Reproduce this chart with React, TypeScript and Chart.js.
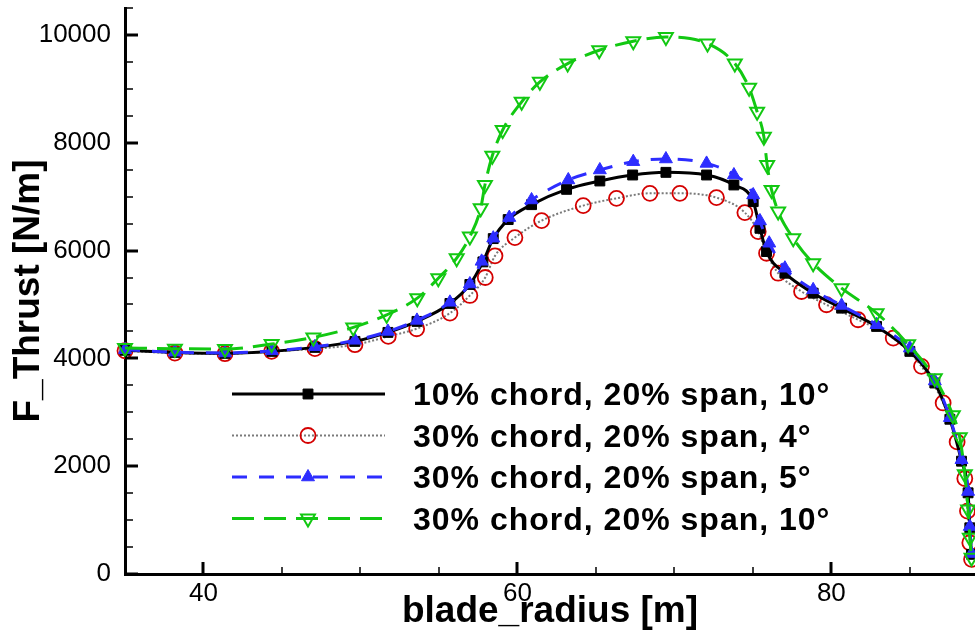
import React, { useEffect, useRef } from 'react';
import { Chart, registerables } from 'chart.js';

Chart.register(...registerables);

// ---------- data ----------
const xBlack = [35, 38.18, 41.37, 44.36, 47.1, 49.65, 51.75, 53.6, 55.7, 56.97, 57.8, 58.46, 59.41, 60.9, 63.13, 65.25, 67.34, 69.46, 72.05, 73.79, 75.02, 75.45, 75.87, 77.04, 78.84, 80.65, 82.88, 85.0, 86.59, 87.55, 88.29, 88.71, 88.82, 88.93];
const yBlack = [4150, 4111, 4093, 4130, 4204, 4315, 4482, 4686, 5019, 5371, 5790, 6222, 6575, 6852, 7136, 7291, 7402, 7451, 7402, 7217, 6908, 6413, 5982, 5580, 5210, 4932, 4593, 4130, 3543, 2871, 2093, 1506, 857, 365];

const xRed = [35, 38.18, 41.37, 44.34, 47.1, 49.65, 51.77, 53.58, 55.7, 56.97, 57.95, 58.57, 59.84, 61.54, 64.19, 66.31, 68.44, 70.35, 72.68, 74.49, 75.34, 75.87, 76.61, 78.1, 79.69, 81.7, 83.94, 85.74, 87.12, 88.01, 88.5, 88.67, 88.82, 88.93];
const yRed = [4142, 4099, 4087, 4130, 4180, 4254, 4408, 4550, 4839, 5167, 5500, 5902, 6241, 6556, 6834, 6969, 7062, 7062, 6982, 6704, 6352, 5950, 5580, 5241, 4995, 4717, 4376, 3852, 3173, 2450, 1772, 1167, 580, 272];

const xBlue = [35, 38.18, 41.37, 44.36, 47.1, 49.65, 51.75, 53.6, 55.7, 56.97, 57.72, 58.46, 59.48, 60.9, 63.24, 65.25, 67.38, 69.46, 72.05, 73.79, 75.02, 75.45, 76.04, 77.04, 78.84, 80.65, 82.88, 85.0, 86.59, 87.55, 88.29, 88.71, 88.82, 88.93];
const yBlue = [4160, 4115, 4100, 4140, 4215, 4335, 4500, 4705, 5040, 5380, 5800, 6230, 6612, 6939, 7310, 7495, 7649, 7699, 7617, 7402, 7032, 6550, 6136, 5673, 5272, 4982, 4624, 4191, 3580, 2900, 2120, 1530, 880, 380];

const xGreen = [35, 38.18, 41.37, 44.34, 47.0, 49.54, 51.67, 53.62, 54.96, 56.13, 56.97, 57.66, 57.93, 58.4, 59.06, 60.27, 61.43, 63.2, 65.21, 67.38, 69.46, 72.11, 73.85, 74.76, 75.27, 75.7, 75.91, 76.19, 76.61, 77.57, 78.84, 80.65, 82.88, 84.89, 86.59, 87.74, 88.18, 88.5, 88.71, 88.82, 88.93];
const yGreen = [4191, 4180, 4173, 4265, 4389, 4574, 4809, 5117, 5487, 5858, 6260, 6784, 7217, 7760, 8236, 8760, 9130, 9469, 9717, 9884, 9960, 9840, 9469, 9019, 8575, 8112, 7588, 7125, 6727, 6228, 5765, 5302, 4839, 4260, 3630, 2945, 2537, 1852, 1198, 672, 300];

const seriesLabels = [
  '10% chord, 20% span, 10°',
  '30% chord, 20% span, 4°',
  '30% chord, 20% span, 5°',
  '30% chord, 20% span, 10°',
];

const xMin = 35;
const xMax = 89.15;
const yMin = 0;
const yMax = 10500;
const xStep = 5;
const xMajorEvery = 20;
const yStep = 500;
const yMajorEvery = 2000;

// ---------- styles ----------
const BLACK = '#000000';
const RED = '#d40000';
const GRAY = '#7a7a7a';
const BLUE = '#2d2dff';
const GREEN = '#12c812';
const FONT = '"Liberation Sans", Arial, Helvetica, sans-serif';

const styles = [
  { line: BLACK, width: 3, dash: [] as number[], marker: 'rect', fill: BLACK, stroke: BLACK, r: 7, mw: 1 },
  { line: GRAY, width: 2, dash: [2, 2], marker: 'circle', fill: 'rgba(0,0,0,0)', stroke: RED, r: 7.5, mw: 1.8 },
  { line: BLUE, width: 3, dash: [15, 12], marker: 'triangle', fill: BLUE, stroke: BLUE, r: 7.5, mw: 1 },
  { line: GREEN, width: 3, dash: [22, 10], marker: 'triangleDown', fill: 'rgba(0,0,0,0)', stroke: GREEN, r: 8, mw: 2 },
];

function zip(xs: number[], ys: number[]) {
  return xs.map((x, i) => ({ x, y: ys[i] }));
}

function drawMarker(ctx: CanvasRenderingContext2D, kind: string, x: number, y: number, r: number, fill: string, stroke: string, lw: number) {
  ctx.save();
  ctx.setLineDash([]);
  ctx.beginPath();
  if (kind === 'rect') {
    const s = Math.SQRT1_2 * r;
    ctx.rect(x - s, y - s, 2 * s, 2 * s);
  } else if (kind === 'circle') {
    ctx.arc(x, y, r, 0, Math.PI * 2);
  } else if (kind === 'triangle' || kind === 'triangleDown') {
    const sgn = kind === 'triangle' ? 1 : -1;
    const a = -Math.PI / 2;
    for (let k = 0; k < 3; k++) {
      const ang = a + (k * 2 * Math.PI) / 3;
      const px = x + Math.cos(ang) * r;
      const py = y + sgn * Math.sin(ang) * r;
      if (k === 0) ctx.moveTo(px, py); else ctx.lineTo(px, py);
    }
    ctx.closePath();
  }
  ctx.fillStyle = fill;
  ctx.fill();
  ctx.lineWidth = lw;
  ctx.strokeStyle = stroke;
  ctx.stroke();
  ctx.restore();
}

const innerTicks = {
  id: 'innerTicks',
  afterDraw(chart: any) {
    const { ctx, chartArea } = chart;
    const xs = chart.scales.x;
    const ys = chart.scales.y;
    ctx.save();
    ctx.strokeStyle = '#000';
    xs.ticks.forEach((t: any) => {
      const major = Math.abs(t.value % xMajorEvery) < 1e-6;
      const px = Math.round(xs.getPixelForValue(t.value));
      ctx.lineWidth = major ? 3 : 1.5;
      ctx.beginPath();
      ctx.moveTo(px, chartArea.bottom);
      ctx.lineTo(px, chartArea.bottom - (major ? 12 : 7));
      ctx.stroke();
    });
    ys.ticks.forEach((t: any) => {
      const major = Math.abs(t.value % yMajorEvery) < 1e-6;
      const py = Math.round(ys.getPixelForValue(t.value));
      ctx.lineWidth = major ? 3 : 1.5;
      ctx.beginPath();
      ctx.moveTo(chartArea.left, py);
      ctx.lineTo(chartArea.left + (major ? 13 : 8), py);
      ctx.stroke();
    });
    ctx.restore();
  },
};

const lineLegend = {
  id: 'lineLegend',
  afterDraw(chart: any) {
    const { ctx } = chart;
    const x0 = 232;
    const x1 = 385;
    const xm = 308;
    const xt = 413;
    const y0 = 394;
    const dy = 41.5;
    ctx.save();
    seriesLabels.forEach((label, i) => {
      const st = styles[i];
      const y = y0 + i * dy;
      ctx.beginPath();
      ctx.setLineDash(st.dash);
      ctx.lineWidth = st.width;
      ctx.strokeStyle = st.line;
      ctx.moveTo(x0, y);
      ctx.lineTo(x1, y);
      ctx.stroke();
      drawMarker(ctx, st.marker, xm, y, st.r, st.fill, st.stroke, st.mw);
      ctx.setLineDash([]);
      ctx.fillStyle = '#000';
      ctx.font = `bold 32px ${FONT}`;
      (ctx as any).letterSpacing = '1px';
      ctx.textAlign = 'left';
      ctx.textBaseline = 'alphabetic';
      ctx.fillText(label, xt, y + 11);
    });
    ctx.restore();
  },
};

export default function App() {
  const ref = useRef<HTMLCanvasElement | null>(null);

  useEffect(() => {
    document.body.style.margin = '0';
    const canvas = ref.current;
    if (!canvas) return;
    const datasets = [
      zip(xBlack, yBlack),
      zip(xRed, yRed),
      zip(xBlue, yBlue),
      zip(xGreen, yGreen),
    ].map((data, i) => {
      const st = styles[i];
      return {
        label: seriesLabels[i],
        data,
        borderColor: st.line,
        borderWidth: st.width,
        borderDash: st.dash,
        pointStyle: st.marker === 'triangleDown' ? 'triangle' : st.marker,
        rotation: st.marker === 'triangleDown' ? 180 : 0,
        pointRadius: st.r,
        pointHoverRadius: st.r,
        pointBackgroundColor: st.fill,
        pointBorderColor: st.stroke,
        pointBorderWidth: st.mw,
        cubicInterpolationMode: 'monotone' as const,
        fill: false,
        clip: false as any,
        order: [2, 3, 1, 0][i],
      };
    });

    const zeroPad = (s: any) => {
      s.paddingTop = 0;
      s.paddingBottom = 0;
      s.paddingLeft = 0;
      s.paddingRight = 0;
    };

    const chart = new Chart(canvas, {
      type: 'line',
      data: { datasets },
      options: {
        animation: false,
        responsive: false,
        devicePixelRatio: 1,
        layout: { autoPadding: false, padding: { top: 8, left: 0, right: 0, bottom: 0 } },
        plugins: {
          legend: { display: false },
          tooltip: { enabled: false },
        },
        scales: {
          x: {
            type: 'linear',
            min: xMin,
            max: xMax,
            grid: { display: false, drawTicks: false },
            border: { display: true, width: 3, color: '#000' },
            ticks: {
              stepSize: xStep,
              includeBounds: false,
              autoSkip: false,
              maxRotation: 0,
              padding: 4,
              color: '#000',
              font: { family: FONT, size: 26 },
              callback: (v: any) => (Math.abs(Number(v) % xMajorEvery) < 1e-6 ? String(v) : ''),
            },
            title: {
              display: true,
              text: 'blade_radius [m]',
              color: '#000',
              font: { family: FONT, size: 37, weight: 'bold' },
              padding: { top: 0, bottom: 2 },
            },
            afterFit: (s: any) => { s.height = 62; zeroPad(s); },
          },
          y: {
            type: 'linear',
            min: yMin,
            max: yMax,
            grid: { display: false, drawTicks: false },
            border: { display: true, width: 3, color: '#000' },
            ticks: {
              stepSize: yStep,
              autoSkip: false,
              padding: 14,
              color: '#000',
              font: { family: FONT, size: 26 },
              callback: (v: any) => (Math.abs(Number(v) % yMajorEvery) < 1e-6 ? String(v) : ''),
            },
            title: {
              display: true,
              text: 'F_Thrust [N/m]',
              color: '#000',
              font: { family: FONT, size: 37, weight: 'bold' },
              padding: { top: 7, bottom: 0 },
            },
            afterFit: (s: any) => { s.width = 125; zeroPad(s); },
          },
        },
      },
      plugins: [innerTicks, lineLegend],
    } as any);

    return () => chart.destroy();
  }, []);

  return (
    <div style={{ width: 975, height: 636, background: '#fff' }}>
      <canvas ref={ref} width={975} height={636} style={{ display: 'block' }} />
    </div>
  );
}
